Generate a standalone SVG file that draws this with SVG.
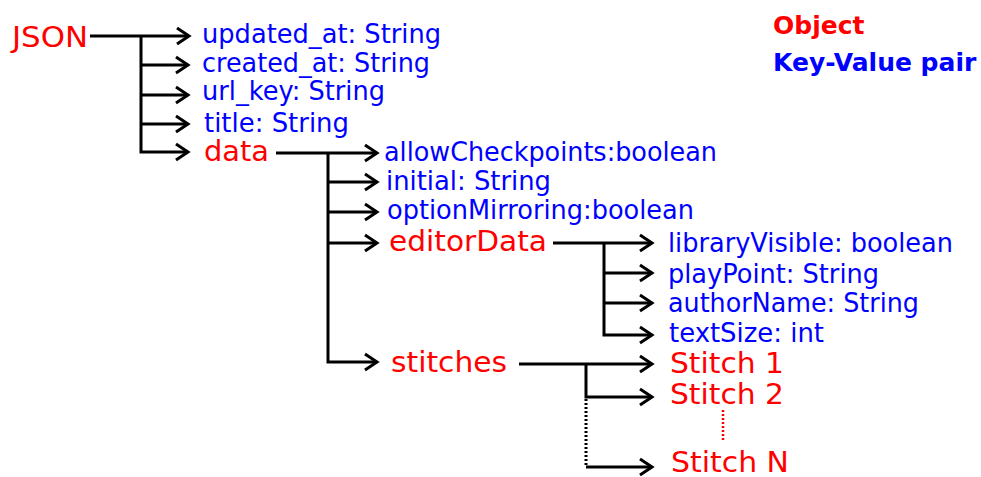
<svg xmlns="http://www.w3.org/2000/svg" width="981" height="477" viewBox="0 0 981 477">
  <style>
    text { font-family: "DejaVu Sans", "Liberation Sans", sans-serif; }
    .obj { fill: #ff0000; font-size: 28.5px; }
    .kv { fill: #0000ff; font-size: 26px; }
    .legend { font-size: 25px; font-weight: bold; }
    .link { fill: none; stroke: #000; stroke-width: 3; }
    .dots { fill: none; stroke: #000; stroke-width: 3; stroke-dasharray: 2 2; }
    .reddots { fill: none; stroke: #ff0000; stroke-width: 2.5; stroke-dasharray: 2 2; }
  </style>
  <defs>
    <marker id="arrow" markerUnits="userSpaceOnUse" markerWidth="20" markerHeight="24" viewBox="-16 -12 20 24" refX="0" refY="0" orient="auto">
      <path d="M-12,-8 L0,0 L-12,8" fill="none" stroke="#000" stroke-width="3"/>
    </marker>
  </defs>

  <rect width="981" height="477" fill="#fff"/>

  <!-- connectors -->
  <g id="connectors">
    <!-- JSON -->
    <path class="link" d="M90,36 H189" marker-end="url(#arrow)"/>
    <path class="link" d="M141,65 H188" marker-end="url(#arrow)"/>
    <path class="link" d="M141,95 H188" marker-end="url(#arrow)"/>
    <path class="link" d="M141,124 H188" marker-end="url(#arrow)"/>
    <path class="link" d="M141,36 V152 H188" marker-end="url(#arrow)"/>
    <!-- data -->
    <path class="link" d="M276,153 H377" marker-end="url(#arrow)"/>
    <path class="link" d="M328,182 H377" marker-end="url(#arrow)"/>
    <path class="link" d="M328,212 H377" marker-end="url(#arrow)"/>
    <path class="link" d="M328,243 H377" marker-end="url(#arrow)"/>
    <path class="link" d="M328,153 V362 H377" marker-end="url(#arrow)"/>
    <!-- editorData -->
    <path class="link" d="M553,243 H652" marker-end="url(#arrow)"/>
    <path class="link" d="M604,273 H652" marker-end="url(#arrow)"/>
    <path class="link" d="M604,303 H652" marker-end="url(#arrow)"/>
    <path class="link" d="M604,243 V335 H652" marker-end="url(#arrow)"/>
    <!-- stitches -->
    <path class="link" d="M519,364 H652" marker-end="url(#arrow)"/>
    <path class="link" d="M586,364 V397 H652" marker-end="url(#arrow)"/>
    <path class="dots" d="M586,399 V466"/>
    <path class="link" d="M586,467 H652" marker-end="url(#arrow)"/>
    <path class="reddots" d="M723,410 V442"/>
  </g>

  <!-- nodes -->
  <g id="node-json"><text class="obj" x="12" y="47" textLength="76" lengthAdjust="spacingAndGlyphs">JSON</text></g>
  <g id="node-updated-at"><text class="kv" x="202" y="43" textLength="239" lengthAdjust="spacingAndGlyphs">updated_at: String</text></g>
  <g id="node-created-at"><text class="kv" x="202" y="72" textLength="228" lengthAdjust="spacingAndGlyphs">created_at: String</text></g>
  <g id="node-url-key"><text class="kv" x="202" y="100" textLength="183" lengthAdjust="spacingAndGlyphs">url_key: String</text></g>
  <g id="node-title"><text class="kv" x="204" y="132" textLength="145" lengthAdjust="spacingAndGlyphs">title: String</text></g>
  <g id="node-data"><text class="obj" x="204" y="161" textLength="65" lengthAdjust="spacingAndGlyphs">data</text></g>

  <g id="node-allow-checkpoints"><text class="kv" x="384" y="161" textLength="333" lengthAdjust="spacingAndGlyphs">allowCheckpoints:boolean</text></g>
  <g id="node-initial"><text class="kv" x="386" y="190" textLength="165" lengthAdjust="spacingAndGlyphs">initial: String</text></g>
  <g id="node-option-mirroring"><text class="kv" x="387" y="219" textLength="307" lengthAdjust="spacingAndGlyphs">optionMirroring:boolean</text></g>
  <g id="node-editor-data"><text class="obj" x="389" y="251" textLength="158" lengthAdjust="spacingAndGlyphs">editorData</text></g>
  <g id="node-stitches"><text class="obj" x="391" y="372" textLength="116" lengthAdjust="spacingAndGlyphs">stitches</text></g>

  <g id="node-library-visible"><text class="kv" x="668" y="252" textLength="285" lengthAdjust="spacingAndGlyphs">libraryVisible: boolean</text></g>
  <g id="node-play-point"><text class="kv" x="668" y="283" textLength="211" lengthAdjust="spacingAndGlyphs">playPoint: String</text></g>
  <g id="node-author-name"><text class="kv" x="668" y="312" textLength="251" lengthAdjust="spacingAndGlyphs">authorName: String</text></g>
  <g id="node-text-size"><text class="kv" x="669" y="342" textLength="155" lengthAdjust="spacingAndGlyphs">textSize: int</text></g>

  <g id="node-stitch-1"><text class="obj" x="670" y="373" textLength="114" lengthAdjust="spacingAndGlyphs">Stitch 1</text></g>
  <g id="node-stitch-2"><text class="obj" x="670" y="404" textLength="114" lengthAdjust="spacingAndGlyphs">Stitch 2</text></g>
  <g id="node-stitch-n"><text class="obj" x="671" y="472" textLength="118" lengthAdjust="spacingAndGlyphs">Stitch N</text></g>

  <!-- legend -->
  <g id="legend">
    <text class="legend" x="773" y="34" fill="#ff0000">Object</text>
    <text class="legend" x="773" y="71" fill="#0000ff">Key-Value pair</text>
  </g>
</svg>
